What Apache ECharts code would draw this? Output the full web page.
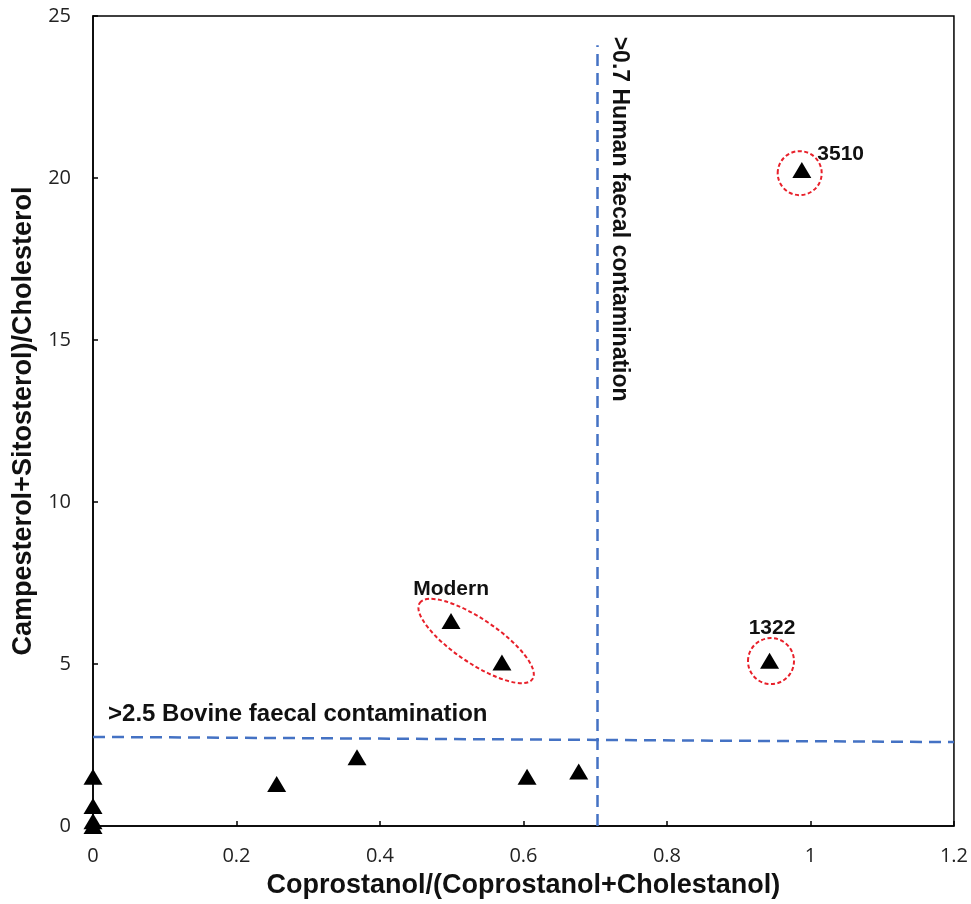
<!DOCTYPE html>
<html>
<head>
<meta charset="utf-8">
<script src="https://cdn.jsdelivr.net/npm/echarts@6/dist/echarts.min.js"></script>
<style>
  html, body { margin: 0; padding: 0; background: #fff; }
  #chart { width: 971px; height: 904px; }
</style>
</head>
<body>
<div id="chart"></div>
<script>
// sample ratios
var ratioX = [0, 0, 0, 0, 0.256, 0.368, 0.499, 0.570, 0.605, 0.677, 0.943, 0.988];
var ratioY = [1.52, 0.62, 0.15, 0.0, 1.30, 2.12, 6.33, 5.05, 1.52, 1.68, 5.10, 20.25];

var xTicks = [0, 0.2, 0.4, 0.6, 0.8, 1, 1.2];
var yTicks = [0, 5, 10, 15, 20, 25];

// threshold guide lines (x, y pairs, start/end)
var bovineLine = [[0, 2.75], [1.2, 2.59]];
var humanLine = [[0.703, 0], [0.703, 24.1]];

// circled groups: centre of ring and its label
var groupNames = ['Modern', '3510', '1322'];
var groupCenters = [[0.534, 5.71], [0.985, 20.15], [0.945, 5.09]];

// threshold captions
var noteTexts = ['>2.5 Bovine faecal contamination', '>0.7 Human faecal contamination'];
var notePos = [[0.021, 3.43], [0.734, 18.73]];

// ring look (pixels), one per group
var ringStyle = [
  { rx: 68, ry: 22, rot: -34, dx: -25, dy: -52 },
  { rx: 22, ry: 22, rot: 0, dx: 41, dy: -19 },
  { rx: 23, ry: 23, rot: 0, dx: 1, dy: -33 }
];

var points = ratioX.map(function (x, i) { return [x, ratioY[i]]; });
var rings = groupCenters.map(function (c, i) { return [c[0], c[1], i]; });
var notes = notePos.map(function (p, i) { return [p[0], p[1], i]; });

var chart = echarts.init(document.getElementById('chart'));

var option = {
  animation: false,
  backgroundColor: '#fff',
  grid: {
    left: 93, right: 17, top: 16, bottom: 78,
    show: true, borderColor: '#000', borderWidth: 1.5
  },
  xAxis: {
    type: 'value',
    min: xTicks[0], max: xTicks[xTicks.length - 1], interval: 0.2,
    name: 'Coprostanol/(Coprostanol+Cholestanol)',
    nameLocation: 'middle',
    nameGap: 46,
    nameTextStyle: { fontFamily: 'Liberation Sans', fontWeight: 'bold', fontSize: 27, color: '#111' },
    axisLine: { lineStyle: { color: '#000', width: 1.5 } },
    axisTick: { inside: true, length: 5, lineStyle: { color: '#000', width: 1.5 } },
    axisLabel: { fontFamily: 'Open Sans', fontSize: 20, color: '#222', margin: 20 },
    splitLine: { show: false }
  },
  yAxis: {
    type: 'value',
    min: yTicks[0], max: yTicks[yTicks.length - 1], interval: 5,
    name: 'Campesterol+Sitosterol)/Cholesterol',
    nameLocation: 'middle',
    nameGap: 55,
    nameTextStyle: { fontFamily: 'Liberation Sans', fontWeight: 'bold', fontSize: 27, color: '#111' },
    axisLine: { lineStyle: { color: '#000', width: 1.5 } },
    axisTick: { inside: true, length: 5, lineStyle: { color: '#000', width: 1.5 } },
    axisLabel: { fontFamily: 'Open Sans', fontSize: 20, color: '#222', margin: 22 },
    splitLine: { show: false }
  },
  series: [
    {
      type: 'scatter',
      data: points,
      symbol: 'triangle',
      symbolSize: [19, 16],
      itemStyle: { color: '#000', opacity: 1 },
      z: 5,
      markLine: {
        silent: true,
        symbol: 'none',
        label: { show: false },
        lineStyle: { color: '#4472C4', type: [12, 7], width: 2.5 },
        data: [
          [{ coord: bovineLine[0] }, { coord: bovineLine[1] }],
          [{ coord: humanLine[0] }, { coord: humanLine[1] }]
        ]
      }
    },
    {
      type: 'custom',
      data: rings,
      silent: true,
      z: 6,
      renderItem: function (params, api) {
        var c = api.coord([api.value(0), api.value(1)]);
        var s = ringStyle[api.value(2)];
        return {
          type: 'group',
          children: [
            {
              type: 'ellipse',
              x: c[0], y: c[1],
              rotation: s.rot * Math.PI / 180,
              shape: { cx: 0, cy: 0, rx: s.rx, ry: s.ry },
              style: { fill: 'none', stroke: '#E8202A', lineWidth: 2, lineDash: [4, 2.5] }
            },
            {
              type: 'text',
              x: c[0] + s.dx, y: c[1] + s.dy,
              style: {
                text: groupNames[api.value(2)],
                fontFamily: 'Liberation Sans', fontWeight: 'bold', fontSize: 21,
                fill: '#111', align: 'center', verticalAlign: 'middle'
              }
            }
          ]
        };
      }
    },
    {
      type: 'custom',
      data: notes,
      silent: true,
      z: 6,
      renderItem: function (params, api) {
        var c = api.coord([api.value(0), api.value(1)]);
        var i = api.value(2);
        return {
          type: 'text',
          x: c[0], y: c[1],
          rotation: i === 1 ? -Math.PI / 2 : 0,
          style: {
            text: noteTexts[i],
            fontFamily: 'Liberation Sans', fontWeight: 'bold',
            fontSize: i === 1 ? 23 : 24,
            fill: '#111',
            align: i === 1 ? 'center' : 'left',
            verticalAlign: 'middle'
          }
        };
      }
    }
  ]
};

chart.setOption(option);
</script>
</body>
</html>
